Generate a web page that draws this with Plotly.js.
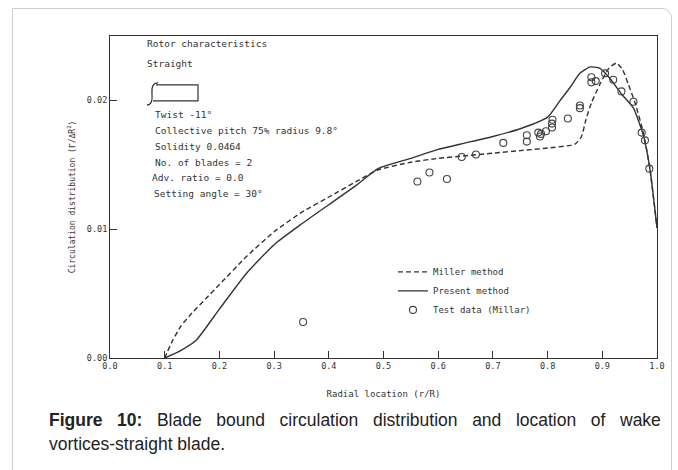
<!DOCTYPE html>
<html><head><meta charset="utf-8">
<script src="https://cdn.plot.ly/plotly-3.0.1.min.js"></script>
<style>
html,body{margin:0;padding:0;background:#fff;}
body{width:678px;height:470px;overflow:hidden;position:relative;}
#card{position:absolute;left:12px;top:8px;width:660px;height:520px;border:1px solid #cfcfcf;border-top-right-radius:10px;box-sizing:border-box;}
#chart{position:absolute;left:0;top:0;width:678px;height:470px;}
</style></head><body>
<div id="card"></div>
<div id="chart"></div>
<script>
// Miller method (dashed)
const millerX = [0.1, 0.105, 0.115, 0.13, 0.15, 0.175, 0.2, 0.25, 0.3, 0.35, 0.4, 0.45, 0.49, 0.55, 0.6, 0.65, 0.7, 0.75, 0.8, 0.85, 0.862, 0.87, 0.88, 0.895, 0.912, 0.926, 0.937, 0.948, 0.96, 0.975, 0.987, 1.0];
const millerY = [0, 0.0005, 0.0014, 0.0025, 0.0035, 0.0046, 0.0057, 0.0079, 0.0098, 0.0113, 0.0125, 0.0137, 0.0146, 0.0152, 0.0155, 0.0157, 0.0159, 0.0161, 0.0163, 0.0166, 0.0172, 0.0185, 0.0198, 0.0212, 0.0225, 0.0229, 0.0224, 0.0212, 0.0198, 0.0175, 0.0147, 0.0101];
// Present method (solid)
const presentX = [0.1, 0.13, 0.158, 0.2, 0.25, 0.3, 0.35, 0.4, 0.45, 0.49, 0.55, 0.6, 0.65, 0.7, 0.75, 0.8, 0.823, 0.841, 0.859, 0.878, 0.895, 0.914, 0.935, 0.957, 0.975, 0.987, 1.0];
const presentY = [0, 0.0006, 0.0014, 0.0038, 0.0066, 0.0088, 0.0104, 0.0119, 0.0134, 0.0147, 0.0155, 0.0162, 0.0167, 0.0172, 0.0178, 0.0187, 0.0200, 0.0210, 0.0221, 0.0226, 0.0225, 0.0217, 0.0205, 0.0194, 0.0173, 0.0147, 0.0101];
// Test data (Millar)
const testX = [0.353, 0.562, 0.584, 0.616, 0.643, 0.669, 0.719, 0.762, 0.762, 0.783, 0.786, 0.788, 0.797, 0.808, 0.808, 0.809, 0.837, 0.859, 0.859, 0.880, 0.880, 0.888, 0.905, 0.920, 0.935, 0.957, 0.972, 0.978, 0.986];
const testY = [0.0028, 0.0137, 0.0144, 0.0139, 0.0156, 0.0158, 0.0167, 0.0173, 0.0168, 0.0175, 0.0172, 0.0174, 0.0176, 0.0179, 0.0182, 0.0185, 0.0186, 0.0196, 0.0194, 0.0218, 0.0214, 0.0215, 0.0221, 0.0216, 0.0207, 0.0199, 0.0175, 0.0169, 0.0147];
const xTickVals = [0, 0.1, 0.2, 0.3, 0.4, 0.5, 0.6, 0.7, 0.8, 0.9, 1.0];
const xTickText = ['0.0', '0.1', '0.2', '0.3', '0.4', '0.5', '0.6', '0.7', '0.8', '0.9', '1.0'];
const yTickVals = [0, 0.01, 0.02];
const yTickText = ['0.00', '0.01', '0.02'];
const rotorLines = ['Twist -11°', 'Collective pitch 75% radius 9.8°', 'Solidity 0.0464', 'No. of blades = 2', 'Adv. ratio = 0.0', 'Setting angle = 30°'];
const captionWords1 = ['Blade', 'bound', 'circulation', 'distribution', 'and', 'location', 'of', 'wake'];

const ink = '#333';
const mono = 'DejaVu Sans Mono';
const fAnn = {family: mono, size: 9.5, color: ink};
const fLeg = {family: mono, size: 9, color: ink};
const fTick = {family: mono, size: 8.5, color: ink};

const traces = [
  {x: millerX, y: millerY, type: 'scatter', mode: 'lines', name: 'Miller method',
   line: {color: ink, width: 1.4, dash: '5px,3px', shape: 'spline', smoothing: 0.5}},
  {x: presentX, y: presentY, type: 'scatter', mode: 'lines', name: 'Present method',
   line: {color: ink, width: 1.4, shape: 'spline', smoothing: 0.5}},
  {x: testX, y: testY, type: 'scatter', mode: 'markers', name: 'Test data (Millar)',
   marker: {symbol: 'circle-open', size: 7, color: '#444', line: {width: 1.1, color: '#444'}}}
];

function px2x(p){ return (p - 110) / 547; }
function py2y(p){ return (358.3 - p) / 321; }

const annotations = [
  {text: 'Rotor characteristics', x: px2x(145), y: py2y(45)},
  {text: 'Straight', x: px2x(145), y: py2y(65)},
];
const lineYs = [116, 132, 147, 163, 178, 194];
const lineXs = [153, 153, 153, 153, 150, 152];
rotorLines.forEach((t, i) => annotations.push({text: t, x: px2x(lineXs[i]), y: py2y(lineYs[i])}));
annotations.forEach(a => Object.assign(a, {xref: 'paper', yref: 'paper', xanchor: 'left', yanchor: 'middle', showarrow: false, font: fAnn}));

const gap = ' \u00a0\u00a0';
annotations.push({xref: 'paper', yref: 'paper', x: px2x(47), y: py2y(420), xanchor: 'left', yanchor: 'middle', showarrow: false,
  text: '<b>Figure' + gap + '10:</b>' + gap + captionWords1.join(gap),
  font: {family: 'Liberation Sans, Arial', size: 17.5, color: '#222'}});
annotations.push({xref: 'paper', yref: 'paper', x: px2x(47), y: py2y(444), xanchor: 'left', yanchor: 'middle', showarrow: false,
  text: 'vortices-straight blade.',
  font: {family: 'Liberation Sans, Arial', size: 17.5, color: '#222'}});

const shapes = [
  {type: 'path', xref: 'paper', yref: 'paper',
   path: `M ${px2x(156)},${py2y(86)} L ${px2x(198)},${py2y(86)} L ${px2x(198)},${py2y(102)} L ${px2x(153)},${py2y(102)}`,
   line: {color: ink, width: 1.2}},
  {type: 'path', xref: 'paper', yref: 'paper',
   path: `M ${px2x(158)},${py2y(84)} Q ${px2x(151)},${py2y(84)} ${px2x(152)},${py2y(95)} Q ${px2x(153)},${py2y(106)} ${px2x(147)},${py2y(106)}`,
   line: {color: ink, width: 1.2}}
];

const layout = {
  width: 678, height: 470,
  margin: {l: 110, r: 21, t: 36, b: 112},
  paper_bgcolor: 'rgba(0,0,0,0)', plot_bgcolor: 'rgba(0,0,0,0)',
  showlegend: true,
  legend: {x: px2x(393), y: py2y(258), xanchor: 'left', yanchor: 'top', font: fLeg, bgcolor: 'rgba(0,0,0,0)', itemwidth: 30},
  xaxis: {range: [0, 1], tickvals: xTickVals, ticktext: xTickText, ticks: 'inside', ticklen: 7, tickcolor: ink,
    showline: true, mirror: true, linecolor: ink, linewidth: 1, showgrid: false, zeroline: false,
    tickfont: fTick, title: {text: 'Radial location (r/R)', font: {family: mono, size: 9, color: ink}, standoff: 20}, automargin: false},
  yaxis: {range: [0, 0.025], tickvals: yTickVals, ticktext: yTickText, ticks: 'inside', ticklen: 7, tickcolor: ink,
    showline: true, mirror: true, linecolor: ink, linewidth: 1, showgrid: false, zeroline: false,
    tickfont: fTick, title: {text: 'Circulation distribution (Γ/ΔR<sup>2</sup>)', font: {family: mono, size: 8, color: ink}, standoff: 10}, automargin: false},
  annotations: annotations,
  shapes: shapes
};

Plotly.newPlot('chart', traces, layout, {displayModeBar: false, staticPlot: true});
</script></body></html>
